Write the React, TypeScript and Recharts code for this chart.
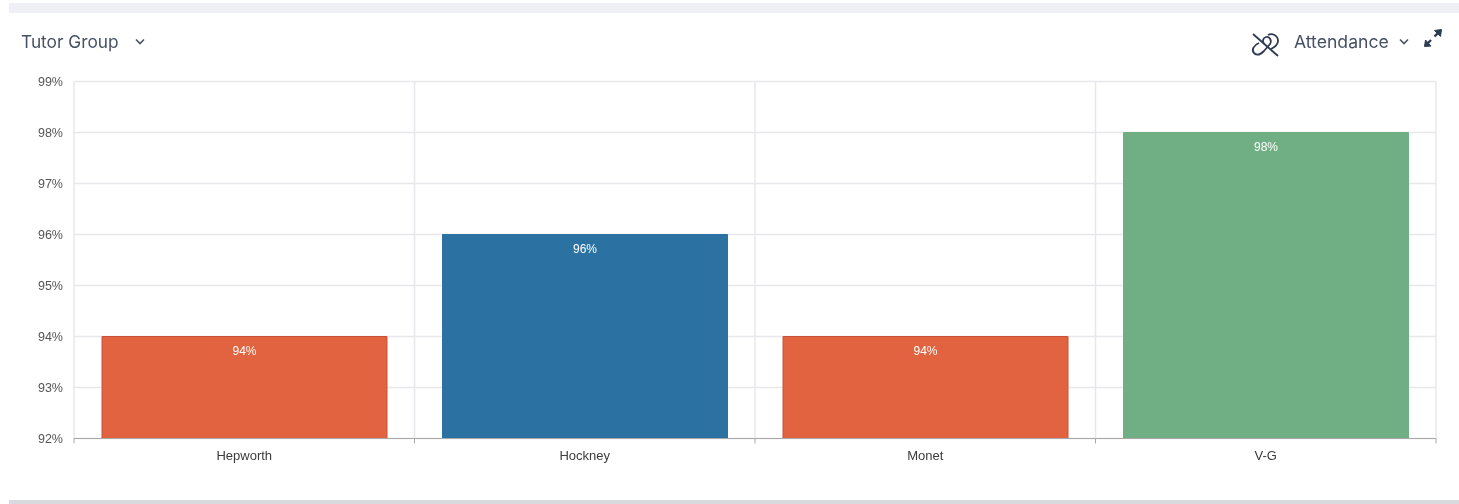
import React from 'react';
import { BarChart, Bar, XAxis, YAxis, CartesianGrid, Cell, LabelList } from 'recharts';

const groups = ['Hepworth', 'Hockney', 'Monet', 'V-G'];
const attendance = [94, 96, 94, 98];
const barColors = ['#E26340', '#2B72A2', '#E26340', '#70AE84'];
const barEdges = ['#C9503A', '#2B72A2', '#C9503A', '#70AE84'];
const yTicks = [92, 93, 94, 95, 96, 97, 98, 99];
// the edges axis runs over the row indexes 0-3, so four equal bands end at these
const bandEdges = [0, 0.75, 1.5, 2.25, 3];

const chartData = groups.map((name, i) => ({ name, attendance: attendance[i] }));

const headText: React.CSSProperties = {
  position: 'absolute',
  fontFamily: 'Inter, sans-serif',
  color: '#465065',
  lineHeight: '20px',
};

const Chevron = ({ x, y }: { x: number; y: number }) => (
  <svg style={{ position: 'absolute', left: x, top: y }} width={12} height={8} viewBox="0 0 12 8">
    <path d="M2 1.5 L6 5.5 L10 1.5" fill="none" stroke="#4A5468" strokeWidth={1.6} />
  </svg>
);

const App: React.FC = () => {
  return (
    <div style={{ position: 'absolute', left: 0, top: 0, width: 1459, height: 504, background: '#fff', overflow: 'hidden', filter: 'blur(0.45px)' }}>
      <div style={{ position: 'absolute', left: 9, right: 0, top: 3, height: 10, background: '#EFF0F5' }} />
      <div style={{ position: 'absolute', left: 9, right: 0, top: 500, height: 4, background: '#D9DADD' }} />

      <div style={{ ...headText, fontSize: 17.3, left: 21, top: 32 }}>Tutor Group</div>
      <Chevron x={134} y={38} />
      <div style={{ ...headText, fontSize: 17.6, left: 1294, top: 32 }}>Attendance</div>
      <Chevron x={1398} y={38} />

      <svg style={{ position: 'absolute', left: 1250, top: 31 }} width={30} height={28} viewBox="0 0 30 28">
        <g fill="none" stroke="#2F3B52" strokeWidth={1.8}>
          <path d="M3 3 L28 25" />
          <path d="M9 12 C4 14 1 19 4 22 C7 25 11 23 14 20 L20 13 C22 10 20 5 16 6 C13 7 12 10 14 13" />
          <path d="M18 4 C22 2 28 4 28 10 C28 14 25 16 21 18" />
        </g>
      </svg>
      <svg style={{ position: 'absolute', left: 1423, top: 28 }} width={20} height={20} viewBox="0 0 20 20">
        <g fill="#2F3B52" stroke="#2F3B52">
          <path d="M18.5 1.5 L11.5 2.5 L17.5 8.5 Z" />
          <path d="M1.5 18.5 L2.5 12 L8 18 Z" />
          <path d="M15 5 L11.5 8.5" strokeWidth={2.4} />
          <path d="M5 15 L8 12" strokeWidth={2.4} />
        </g>
      </svg>

      <div style={{ position: 'absolute', left: 0, top: 0 }}>
        <BarChart
          width={1459}
          height={504}
          data={chartData}
          barSize={285}
          margin={{ top: 81.5, right: 23, bottom: 0, left: 0 }}
        >
          <CartesianGrid xAxisId="edges" stroke="#E8E8EC" strokeWidth={1.5} />
          {/* second axis only carries the ticks and grid lines between the groups */}
          <XAxis
            xAxisId="edges"
            type="number"
            ticks={bandEdges}
            interval={0}
            tick={() => <g />}
            height={5}
            stroke="#A8A8A8"
            tickSize={5}
          />
          <XAxis
            xAxisId="names"
            dataKey="name"
            height={60.5}
            axisLine={false}
            tickLine={false}
            tickMargin={1}
            tick={{ fill: '#3C3C3C', fontSize: 13, fontFamily: '"Liberation Sans", sans-serif' }}
          />
          <YAxis
            width={74}
            domain={[92, 99]}
            ticks={yTicks}
            interval={0}
            allowDataOverflow
            axisLine={false}
            tickLine={false}
            tickMargin={5}
            tickFormatter={(v: number) => `${v}%`}
            tick={{ fill: '#555', fontSize: 12.5, fontFamily: '"Liberation Sans", sans-serif' }}
          />
          <Bar dataKey="attendance" xAxisId="names" isAnimationActive={false}>
            {chartData.map((entry, i) => (
              <Cell key={entry.name} fill={barColors[i]} stroke={barEdges[i]} />
            ))}
            <LabelList
              dataKey="attendance"
              position="insideTop"
              offset={10}
              fill="#fff"
              fontSize={12}
              fontFamily='"Liberation Sans", sans-serif'
              formatter={(v: number) => `${v}%`}
            />
          </Bar>
        </BarChart>
      </div>
    </div>
  );
};

export default App;
